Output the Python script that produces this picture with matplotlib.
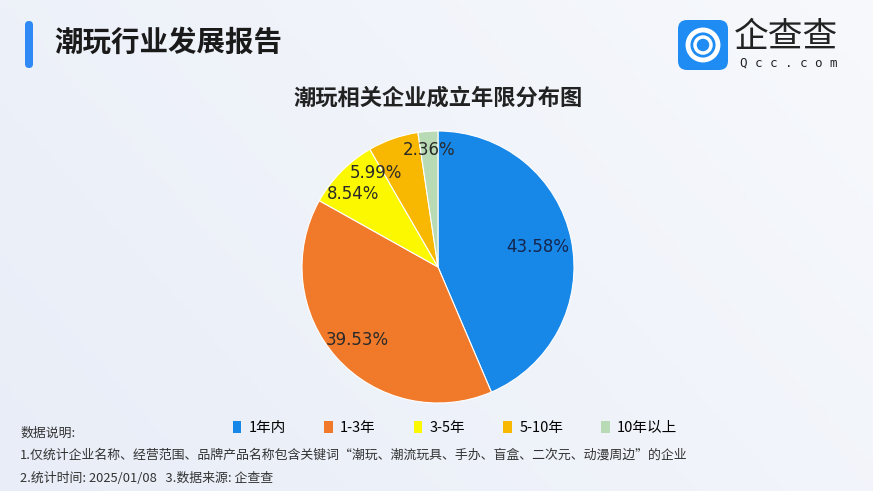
import matplotlib
matplotlib.use("Agg")
import matplotlib.pyplot as plt
import numpy as np
from matplotlib.patches import FancyBboxPatch, Patch, Circle

plt.rcParams['font.family'] = ['Noto Sans CJK SC', 'DejaVu Sans']

categories = ["1年内", "1-3年", "3-5年", "5-10年", "10年以上"]
values = [43.58, 39.53, 8.54, 5.99, 2.36]
colors = ["#1787e8", "#f07a2a", "#fbf800", "#f8b700", "#b8dab4"]

header_title = "潮玩行业发展报告"
chart_title = "潮玩相关企业成立年限分布图"
notes = [
    "数据说明:",
    "1.仅统计企业名称、经营范围、品牌产品名称包含关键词“潮玩、潮流玩具、手办、盲盒、二次元、动漫周边”的企业",
    "2.统计时间: 2025/01/08   3.数据来源: 企查查",
]

W, H = 873, 491
fig = plt.figure(figsize=(W / 100, H / 100), dpi=100)

# background gradient
bg = fig.add_axes([0, 0, 1, 1])
bg.set_axis_off()
x = np.linspace(0, 1, 200)
y = np.linspace(0, 1, 120)
X, Y = np.meshgrid(x, y)
c0 = np.array([0.91, 0.93, 0.97])
c1 = np.array([0.975, 0.98, 0.99])
t = np.clip(0.6 * X + 0.3 * Y, 0, 1)[..., None]
img = c0 * (1 - t) + c1 * t
bg.imshow(img, extent=[0, W, 0, H], aspect='auto', origin='lower')
bg.set_xlim(0, W)
bg.set_ylim(0, H)

# header bar
bg.add_patch(FancyBboxPatch((25, H - 68), 8, 47, boxstyle="round,pad=0,rounding_size=4",
                            fc="#2f8af5", ec="none"))
bg.text(54, H - 43, header_title, fontsize=20.5, fontweight='bold', color="#1a1a1a",
        va='center', ha='left')

# logo
bg.add_patch(FancyBboxPatch((678, H - 70), 50, 50, boxstyle="round,pad=0,rounding_size=9",
                            fc="#1e8cf2", ec="none"))
bg.add_patch(Circle((703, H - 45), 15, fc="none", ec="white", lw=3.5))
bg.add_patch(Circle((703, H - 45), 8, fc="none", ec="white", lw=2.5))
bg.text(734, H - 37, "企查查", fontsize=25, color="#222222", va='center', ha='left')
bg.text(740, H - 63, "Q c c . c o m", fontsize=9, color="#222222", va='center', ha='left',
        family='DejaVu Sans Mono')

# chart title
bg.text(438, H - 98, chart_title, fontsize=16, fontweight='bold', color="#222222",
        va='center', ha='center')

# pie
cx, cy, r = 438, H - 267, 136
ax = fig.add_axes([(cx - r) / W, (cy - r) / H, 2 * r / W, 2 * r / H])
wedges, texts, autotexts = ax.pie(values, colors=colors, startangle=90, counterclock=False,
                                  autopct='%.2f%%', pctdistance=0.8,
                                  wedgeprops=dict(edgecolor='white', linewidth=0.8))
label_dist = [0.75, 0.8, 0.82, 0.83, 0.86]
label_turn = [0, 0, 4, 14, 0]
for i, (w, at) in enumerate(zip(wedges, autotexts)):
    ang = np.deg2rad((w.theta1 + w.theta2) / 2 + label_turn[i])
    at.set_position((label_dist[i] * np.cos(ang), label_dist[i] * np.sin(ang)))
    at.set_fontsize(12)
    at.set_color("#15264d" if i == 0 else "#2a2a2a")
    at.set_family('DejaVu Sans')
ax.set_xlim(-1.0, 1.0)
ax.set_ylim(-1.0, 1.0)
ax.set_aspect('equal')
ax.set_axis_off()

# legend
handles = [Patch(facecolor=c, edgecolor='none') for c in colors]
fig.legend(handles, categories, loc='center', bbox_to_anchor=(455 / W, 1 - 428 / H), ncol=5,
           frameon=False, fontsize=10.5, handlelength=0.6, handleheight=0.9,
           handletextpad=0.5, columnspacing=2.6)

# notes
bg.text(20, H - 433, notes[0], fontsize=9.3, color="#333333", va='center', ha='left')
bg.text(20, H - 455, notes[1], fontsize=9.3, color="#333333", va='center', ha='left')
bg.text(20, H - 478, notes[2], fontsize=9.3, color="#333333", va='center', ha='left')

fig.savefig("out.png", dpi=100)
